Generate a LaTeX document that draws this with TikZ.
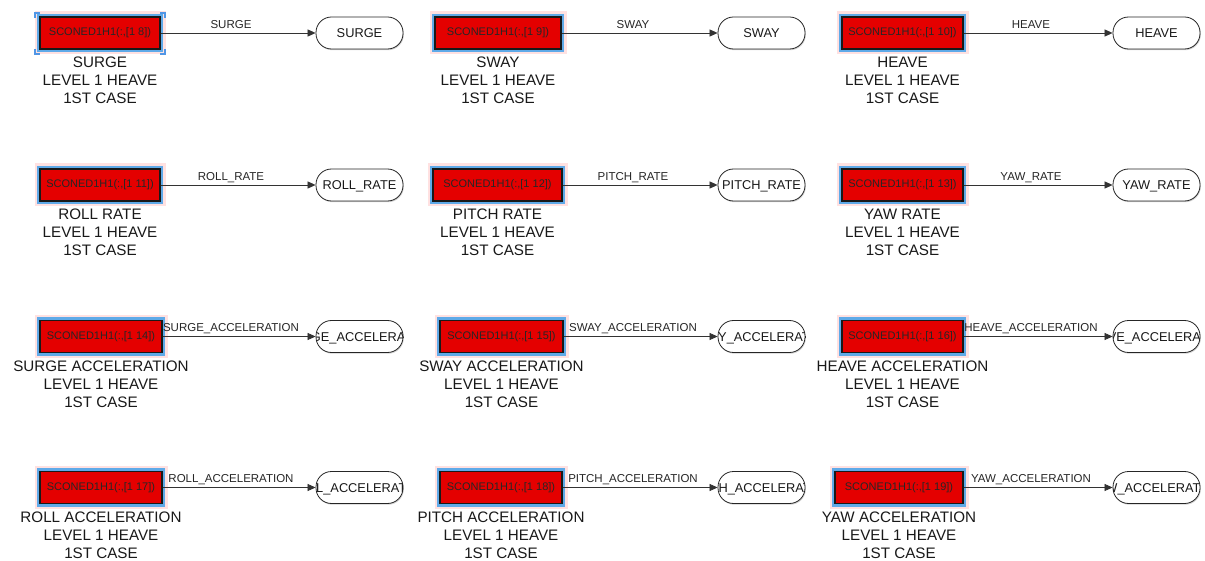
\documentclass[tikz,border=0pt]{standalone}
\usepackage{fontspec}
\setmainfont{Liberation Sans}
\usetikzlibrary{arrows.meta}
\definecolor{sred}{RGB}{228,0,0}
\definecolor{sblue}{RGB}{95,170,232}
\definecolor{spink}{RGB}{255,190,190}
\definecolor{selblue}{RGB}{80,150,230}
\tikzset{
  redbox/.style={draw=black!90, line width=1.1pt, fill=sred, inner sep=0pt,
    minimum height=32pt, font=\fontsize{11}{13}\selectfont, text=black!85,
    preaction={draw=spink, line width=11pt, opacity=0.45},
    preaction={draw=sblue, line width=6.5pt}},
  termshadow/.style={fill=black, opacity=0.18, rounded corners=15.5pt,
    minimum width=87pt, minimum height=32pt, inner sep=0pt},
  term/.style={draw=black!85, line width=0.8pt, fill=white, rounded corners=15.5pt,
    minimum width=87pt, minimum height=32pt, inner sep=0pt},
  sig/.style={draw=black!80, line width=0.7pt, -{Triangle[length=8pt,width=7pt]}},
  siglabel/.style={font=\fontsize{11.5}{13}\selectfont, text=black!85, inner sep=0pt, anchor=base},
  blabel/.style={font=\fontsize{15.2}{18}\selectfont, align=center, inner sep=0pt,
    anchor=north, text=black!90},
  termtxt/.style={font=\fontsize{12.8}{14}\selectfont, text=black!90, inner sep=0pt, anchor=base},
  selmark/.style={draw=selblue, line width=1.4pt},
}
% name, x1, x2, yc, idx, caption, signal, label x, terminal x1
\newcommand\blk[9]{%
  \node[redbox, minimum width={#3-#2}] (#1) at ({(#2+#3)/2},#4) {SCONED1H1(:,[1 #5])};
  \node[blabel] (#1cap) at ([yshift=-7.5pt]#1.south) {#6\\LEVEL 1 HEAVE\\1ST CASE};
  \node[termshadow] (#1s) at ({#9+43.5+0.8},{#4+1.2}) {};
  \node[term, path picture={\node[termtxt] at ([yshift=-4.6pt]path picture bounding box.center) {#7};}] (#1t) at ({#9+43.5},#4) {};
  \draw[sig] (#1.east) -- (#1t.west);
  \node[siglabel] (#1l) at (#8,{#4-4.9}) {#7};
}
\begin{document}
\begin{tikzpicture}[x=1pt,y=-1pt]
\fill[white] (0,0) rectangle (1205,561);
\useasboundingbox (0,0) rectangle (1205,561);
% row 1
\blk{b1}{40}{160}{33}{8}{SURGE}{SURGE}{231}{316}
\blk{b2}{435}{561}{33}{9}{SWAY}{SWAY}{633}{718}
\blk{b3}{842}{963}{33}{10}{HEAVE}{HEAVE}{1031}{1113}
% row 2
\blk{b4}{40}{160}{185}{11}{ROLL RATE}{ROLL\_RATE}{231}{316}
\blk{b5}{433}{562}{185}{12}{PITCH RATE}{PITCH\_RATE}{633}{718}
\blk{b6}{842}{963}{185}{13}{YAW RATE}{YAW\_RATE}{1031}{1113}
% row 3
\blk{b7}{40}{162}{336.5}{14}{SURGE ACCELERATION}{SURGE\_ACCELERATION}{231}{316}
\blk{b8}{440}{563}{336.5}{15}{SWAY ACCELERATION}{SWAY\_ACCELERATION}{633}{718}
\blk{b9}{842}{963}{336.5}{16}{HEAVE ACCELERATION}{HEAVE\_ACCELERATION}{1031}{1113}
% row 4
\blk{b10}{40}{162}{487.5}{17}{ROLL ACCELERATION}{ROLL\_ACCELERATION}{231}{316}
\blk{b11}{440}{562}{487.5}{18}{PITCH ACCELERATION}{PITCH\_ACCELERATION}{633}{718}
\blk{b12}{835}{963}{487.5}{19}{YAW ACCELERATION}{YAW\_ACCELERATION}{1031}{1113}
% selection marks round the first block
\draw[selmark] (35,18) -- (35,13) -- (40,13);
\draw[selmark] (160,13) -- (165,13) -- (165,18);
\draw[selmark] (35,49) -- (35,54) -- (40,54);
\draw[selmark] (160,54) -- (165,54) -- (165,49);
\end{tikzpicture}
\end{document}
